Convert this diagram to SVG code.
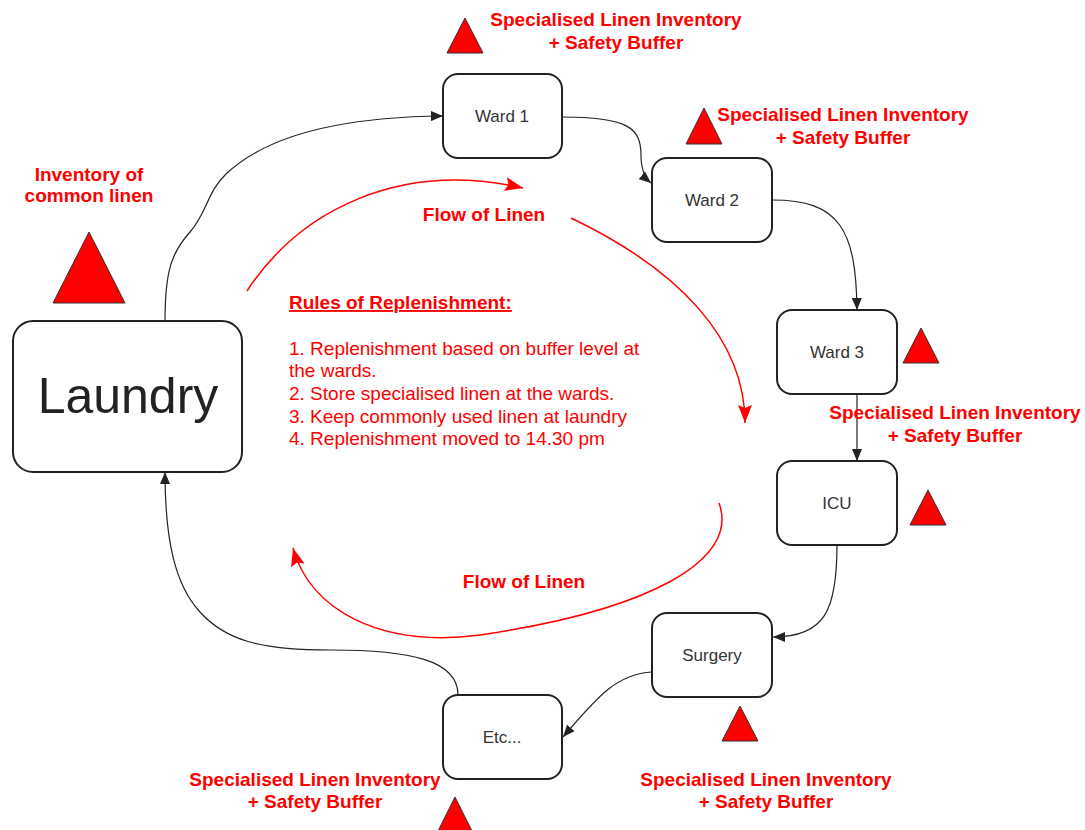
<svg xmlns="http://www.w3.org/2000/svg" width="1085" height="830" viewBox="0 0 1085 830">
<style>
.node rect{fill:#fff;stroke:#222;stroke-width:2}
.nl{font-family:"Liberation Sans",Arial,sans-serif;font-size:17px;fill:#333;text-anchor:middle}
.lbl{font-family:"Liberation Sans",Arial,sans-serif;font-size:19px;font-weight:bold;fill:#f00;text-anchor:middle}
.rule{font-family:"Liberation Sans",Arial,sans-serif;font-size:19px;fill:#f00}
.tri{fill:#f00;stroke:#333;stroke-width:1}
.conn{fill:none;stroke:#222;stroke-width:1.2;marker-end:url(#ab)}
.flow{fill:none;stroke:#f00;stroke-width:1.5;marker-end:url(#ar)}
</style>
<defs>
<marker id="ab" markerUnits="userSpaceOnUse" markerWidth="12" markerHeight="10" refX="12" refY="5" orient="auto"><path d="M0,0 L12,5 L0,10 z" fill="#222"/></marker>
<marker id="ar" markerUnits="userSpaceOnUse" markerWidth="18" markerHeight="14" refX="18" refY="7" orient="auto"><path d="M0,0 L18,7 L0,14 L3,7 z" fill="#f00"/></marker>
</defs>
<rect width="1085" height="830" fill="#fff"/>
<g id="connectors">
<path class="conn" d="M165,321 C165,270 172,252 190,232 C207,213 207,192 226,174 C262,140 330,117 443,116"/>
<path class="conn" d="M562,117 C628,117 641,128 641,155 C641,170 645,178 651,183"/>
<path class="conn" d="M772,200 C840,200 856,230 857,310"/>
<path class="conn" d="M857,394 L857,461"/>
<path class="conn" d="M837,545 C837,610 825,637 773,637"/>
<path class="conn" d="M652,672 C615,674 595,700 563,737"/>
<path class="conn" d="M458,695 C458,660 410,650 330,650 C260,650 225,640 200,612 C175,585 165,540 165,472"/>
</g>
<g id="flows">
<path class="flow" d="M247,291 C300,210 400,160 523,188"/>
<path class="flow" d="M571,218 C680,270 745,340 745,423"/>
<path class="flow" d="M719,503 C740,560 650,610 480,635 C380,648 310,610 293,548"/>
</g>
<g id="laundry" class="node"><rect x="13" y="321" width="229" height="151" rx="20"/><text x="128" y="413" style="font-family:'Liberation Sans',Arial,sans-serif;font-size:50px;fill:#222;text-anchor:middle">Laundry</text></g>
<g id="ward1" class="node"><rect x="443" y="74" width="119" height="84" rx="15"/><text class="nl" x="502" y="122">Ward 1</text></g>
<g id="ward2" class="node"><rect x="652" y="158" width="120" height="84" rx="15"/><text class="nl" x="712" y="206">Ward 2</text></g>
<g id="ward3" class="node"><rect x="777" y="310" width="120" height="84" rx="15"/><text class="nl" x="837" y="358">Ward 3</text></g>
<g id="icu" class="node"><rect x="777" y="461" width="120" height="84" rx="15"/><text class="nl" x="837" y="509">ICU</text></g>
<g id="surgery" class="node"><rect x="652" y="613" width="120" height="84" rx="15"/><text class="nl" x="712" y="661">Surgery</text></g>
<g id="etc" class="node"><rect x="443" y="695" width="119" height="84" rx="15"/><text class="nl" x="502" y="743">Etc...</text></g>
<g id="triangles">
<polygon class="tri" points="89,232 53,303 125,303"/>
<polygon class="tri" points="465,18 447,53 483,53"/>
<polygon class="tri" points="704,108 686,144 722,144"/>
<polygon class="tri" points="921,328 903,363 939,363"/>
<polygon class="tri" points="928,490 910,525 946,525"/>
<polygon class="tri" points="740,706 722,741 758,741"/>
<polygon class="tri" points="455,797 437,833 473,833"/>
</g>
<g id="labels">
<text class="lbl" x="89" y="181">Inventory of</text>
<text class="lbl" x="89" y="202">common linen</text>
<text class="lbl" x="616" y="26">Specialised Linen Inventory</text>
<text class="lbl" x="616" y="49">+ Safety Buffer</text>
<text class="lbl" x="843" y="121">Specialised Linen Inventory</text>
<text class="lbl" x="843" y="144">+ Safety Buffer</text>
<text class="lbl" x="955" y="419">Specialised Linen Inventory</text>
<text class="lbl" x="955" y="442">+ Safety Buffer</text>
<text class="lbl" x="766" y="786">Specialised Linen Inventory</text>
<text class="lbl" x="766" y="808">+ Safety Buffer</text>
<text class="lbl" x="315" y="786">Specialised Linen Inventory</text>
<text class="lbl" x="315" y="808">+ Safety Buffer</text>
<text class="lbl" x="484" y="221">Flow of Linen</text>
<text class="lbl" x="524" y="588">Flow of Linen</text>
</g>
<g id="rules">
<text class="rule" x="289" y="309" font-weight="bold" text-decoration="underline">Rules of Replenishment:</text>
<text class="rule" x="289" y="355">1. Replenishment based on buffer level at</text>
<text class="rule" x="289" y="377">the wards.</text>
<text class="rule" x="289" y="400">2. Store specialised linen at the wards.</text>
<text class="rule" x="289" y="423">3. Keep commonly used linen at laundry</text>
<text class="rule" x="289" y="445">4. Replenishment moved to 14.30 pm</text>
</g>
</svg>
